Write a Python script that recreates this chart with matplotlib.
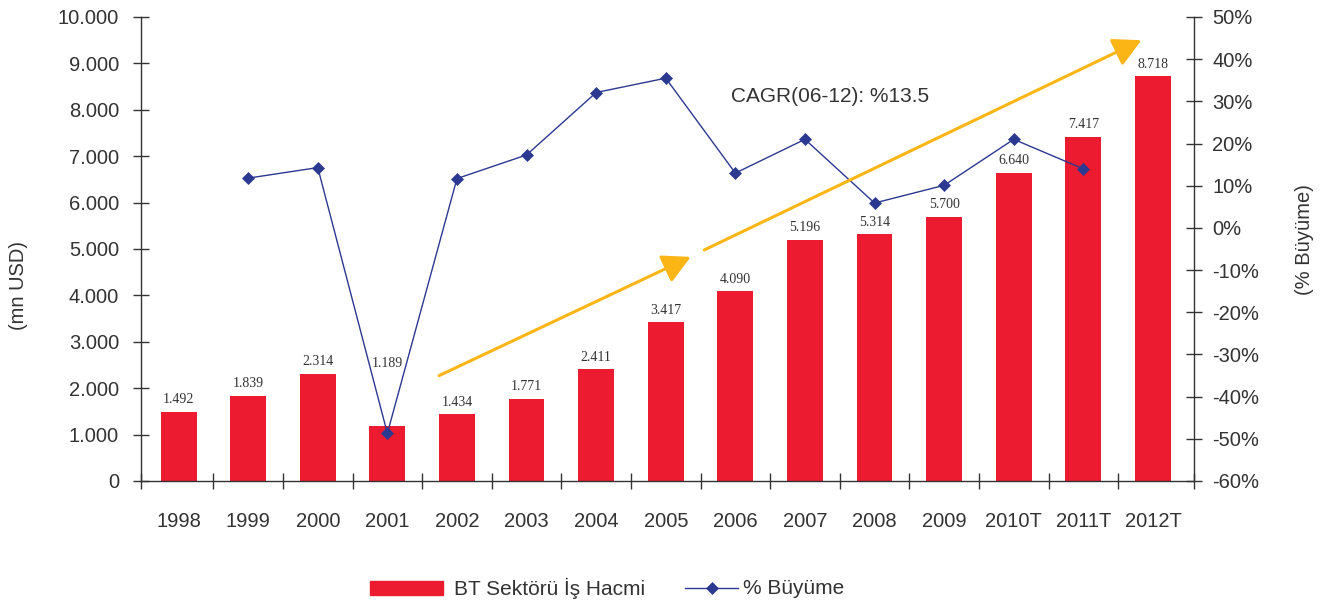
import matplotlib
matplotlib.use("Agg")
import matplotlib.pyplot as plt
from matplotlib.patches import Rectangle
from matplotlib.lines import Line2D
from matplotlib.ticker import FuncFormatter

plt.rcParams['font.family'] = ['Liberation Sans', 'DejaVu Sans']

# ---- data ----
categories = ["1998", "1999", "2000", "2001", "2002", "2003", "2004", "2005",
              "2006", "2007", "2008", "2009", "2010T", "2011T", "2012T"]
volume = [1492, 1839, 2314, 1189, 1434, 1771, 2411, 3417,
          4090, 5196, 5314, 5700, 6640, 7417, 8718]
growth_categories = categories[1:14]
growth = [11.8, 14.3, -48.7, 11.7, 17.3, 32.1, 35.5,
          13.0, 21.0, 5.9, 10.1, 21.0, 14.0]
left_ticks = [0, 1000, 2000, 3000, 4000, 5000, 6000, 7000, 8000, 9000, 10000]
right_ticks = [-60, -50, -40, -30, -20, -10, 0, 10, 20, 30, 40, 50]
cagr_label = "CAGR(06-12): %13.5"
bar_name = "BT Sektörü İş Hacmi"
line_name = "% Büyüme"
left_label = "(mn USD)"
right_label = "(% Büyüme)"

RED = "#ED1B2F"
BLUE = "#2B3990"
YELLOW = "#FBB616"
TXT = "#333333"
AX = "#333333"

W, H = 1328, 601
fig = plt.figure(figsize=(W / 100, H / 100), dpi=100)
ax = fig.add_axes([141 / W, 1 - 481 / H, (1194 - 141) / W, (481 - 17) / H])
ax2 = ax.twinx()

x = list(range(len(categories)))
xg = [categories.index(c) for c in growth_categories]

ax.bar(x, volume, width=0.515, color=RED, zorder=2)
ax.set_xlim(-0.54, 14.59)
ax.set_ylim(0, 10000)
ax.set_yticks(left_ticks)
ax.yaxis.set_major_formatter(FuncFormatter(lambda v, p: f"{int(v):,}".replace(",", ".")))

ax.set_xticks(x)
ax.set_xticklabels(categories)
ax.set_xticks([-0.54] + [i + 0.5 for i in range(len(categories) - 1)] + [14.59], minor=True)
ax.tick_params(axis='x', which='major', length=0, pad=22, labelsize=14.5, labelcolor=TXT)
ax.tick_params(axis='x', which='minor', length=11.5, width=1, direction='inout', color=AX)
ax.tick_params(axis='y', length=11.5, width=1, direction='inout', pad=10,
               labelsize=14.5, labelcolor=TXT, color=AX)

for s in ['top', 'right']:
    ax.spines[s].set_visible(False)
for s in ['left', 'bottom']:
    ax.spines[s].set_color(AX)
    ax.spines[s].set_linewidth(1)

# bar value labels
for i, v in enumerate(volume):
    off = 40 if categories[i] == "2001" else 4
    ax.annotate(f"{v:,}".replace(",", "."), (i, v), xytext=(0, off),
                textcoords='offset points', ha='center', va='bottom',
                fontsize=10, family='Liberation Serif', color=TXT)

# growth line
ax2.plot(xg, growth, color=BLUE, lw=1, marker='D', ms=6.3, mew=0.5,
         mfc=BLUE, mec=BLUE, zorder=3)
ax2.set_ylim(-60, 50)
ax2.set_yticks(right_ticks)
ax2.yaxis.set_major_formatter(FuncFormatter(lambda v, p: f"{int(v)}%"))
ax2.tick_params(axis='y', length=11.5, width=1, direction='inout', pad=7.5,
                labelsize=14.5, labelcolor=TXT, color=AX)
for s in ['top', 'left', 'bottom']:
    ax2.spines[s].set_visible(False)
ax2.spines['right'].set_color(AX)
ax2.spines['right'].set_linewidth(1)

# trend arrows
arrow_kw = dict(arrowstyle="-|>,head_length=0.85,head_width=0.45", mutation_scale=20,
                color=YELLOW, lw=2.2, shrinkA=0, shrinkB=0)
ax2.annotate("", xy=(0.522, 0.483), xytext=(0.283, 0.227), xycoords='axes fraction',
             textcoords='axes fraction', arrowprops=arrow_kw, zorder=5)
ax2.annotate("", xy=(0.950, 0.950), xytext=(0.535, 0.498), xycoords='axes fraction',
             textcoords='axes fraction', arrowprops=arrow_kw, zorder=5)

ax2.text((731 - 141) / 1053, (481 - 96) / 464, cagr_label, transform=ax2.transAxes,
         ha='left', va='center', fontsize=15, color=TXT)

# axis labels
fig.text(19 / W, 1 - 285 / H, left_label, rotation=90, ha='center', va='center',
         fontsize=14.5, color=TXT)
fig.text(1305 / W, 1 - 240 / H, right_label, rotation=90, ha='center', va='center',
         fontsize=14.5, color=TXT)

# legend (manual)
ly = 1 - 588 / H
fig.patches.append(Rectangle((370 / W, 1 - 595 / H), 73 / W, 14 / H,
                             transform=fig.transFigure, color=RED, figure=fig))
fig.text(454 / W, ly, bar_name, ha='left', va='center', fontsize=15, color=TXT)
fig.lines.append(Line2D([685 / W, 738 / W], [ly, ly], transform=fig.transFigure,
                        color=BLUE, lw=1, figure=fig))
fig.lines.append(Line2D([712 / W], [ly], transform=fig.transFigure, color=BLUE,
                        marker='D', ms=6.3, mew=0.5, figure=fig))
fig.text(743 / W, ly, line_name, ha='left', va='center', fontsize=15, color=TXT)

fig.savefig("out.png", dpi=100, facecolor='white')
